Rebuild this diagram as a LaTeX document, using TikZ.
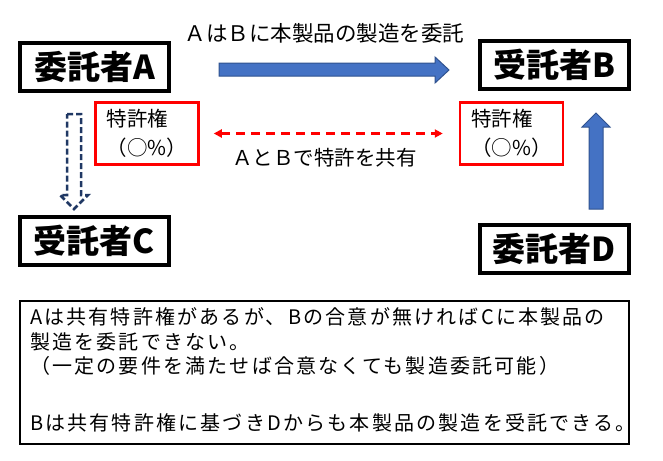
\documentclass[tikz,border=0pt]{standalone}
\usepackage{fontspec}
\setmainfont{Noto Sans CJK JP}
\usetikzlibrary{arrows.meta}

\definecolor{arrowblue}{HTML}{4472C4}
\definecolor{arrowedge}{HTML}{2F528F}
\definecolor{navy}{HTML}{203864}

\newcommand{\lblfont}{\fontsize{20.5}{29}\selectfont}

\begin{document}
\begin{tikzpicture}[x=1pt, y=-1pt,
    party/.style={draw, line width=4pt, minimum width=149pt, minimum height=48pt,
      inner sep=0pt, font=\fontsize{33}{33}\selectfont\bfseries},
    patent/.style={draw=red, line width=2.5pt, minimum width=103pt, minimum height=62pt,
      align=left, font=\lblfont},
    label/.style={inner sep=0pt, font=\lblfont},
    share/.style={red, line width=2.5pt, dash pattern=on 9pt off 6pt,
      {Triangle[length=8pt,width=8pt]}-{Triangle[length=8pt,width=8pt]}},
    fat/.style={fill=arrowblue, draw=arrowedge, line width=1pt},
    note/.style={draw, line width=2pt, minimum width=609pt, minimum height=143pt,
      text width=589pt, inner xsep=10pt, align=left,
      font=\fontsize{20}{24.5}\selectfont\addfontfeatures{LetterSpace=11}}
  ]
  \useasboundingbox (0,0) rectangle (663,460);

  \node[party] (A) at (94.5,67) {委託者A};
  \node[party] (B) at (554.5,65) {受託者B};
  \node[party] (C) at (94.5,241) {受託者C};
  \node[party] (D) at (554.5,248.5) {委託者D};

  \node[patent] (pa) at (147,133.5) {特許権\\（○\%）};
  \node[patent] (pb) at (511.5,133.5) {特許権\\（○\%）};

  % Auftrag A -> B
  \draw[fat] (219,63) -- (435,63) -- (435,57) -- (449,70) -- (435,83) -- (435,76) -- (219,76) -- cycle;
  \node[label, font=\fontsize{21.5}{29}\selectfont] (ab) at (324.5,33) {ＡはＢに本製品の製造を委託};

  % gemeinsames Patent
  \draw[share, shorten <=14pt, shorten >=16pt] (pa.east) -- (pb.west);
  \node[label] (sh) at (324.5,158) {ＡとＢで特許を共有};

  % A -> C (gestrichelt)
  \draw[navy, line width=2.5pt, dash pattern=on 6pt off 3pt]
    (67,114) -- (81,114) -- (81,195) -- (88,195) -- (74,209) -- (60,195) -- (67,195) -- cycle;

  % D -> B
  \draw[fat] (589,209) -- (589,127) -- (582,127) -- (596,113) -- (610,127) -- (603,127) -- (603,209) -- cycle;

  \node[note] (nt) at (324.5,372.5) {Aは共有特許権があるが、Bの合意が無ければCに本製品の\\
    製造を委託できない。\\
    （一定の要件を満たせば合意なくても製造委託可能）\\[32pt]
    Bは共有特許権に基づきDからも本製品の製造を受託できる。\rule[-7pt]{0pt}{7pt}};

\end{tikzpicture}
\end{document}
